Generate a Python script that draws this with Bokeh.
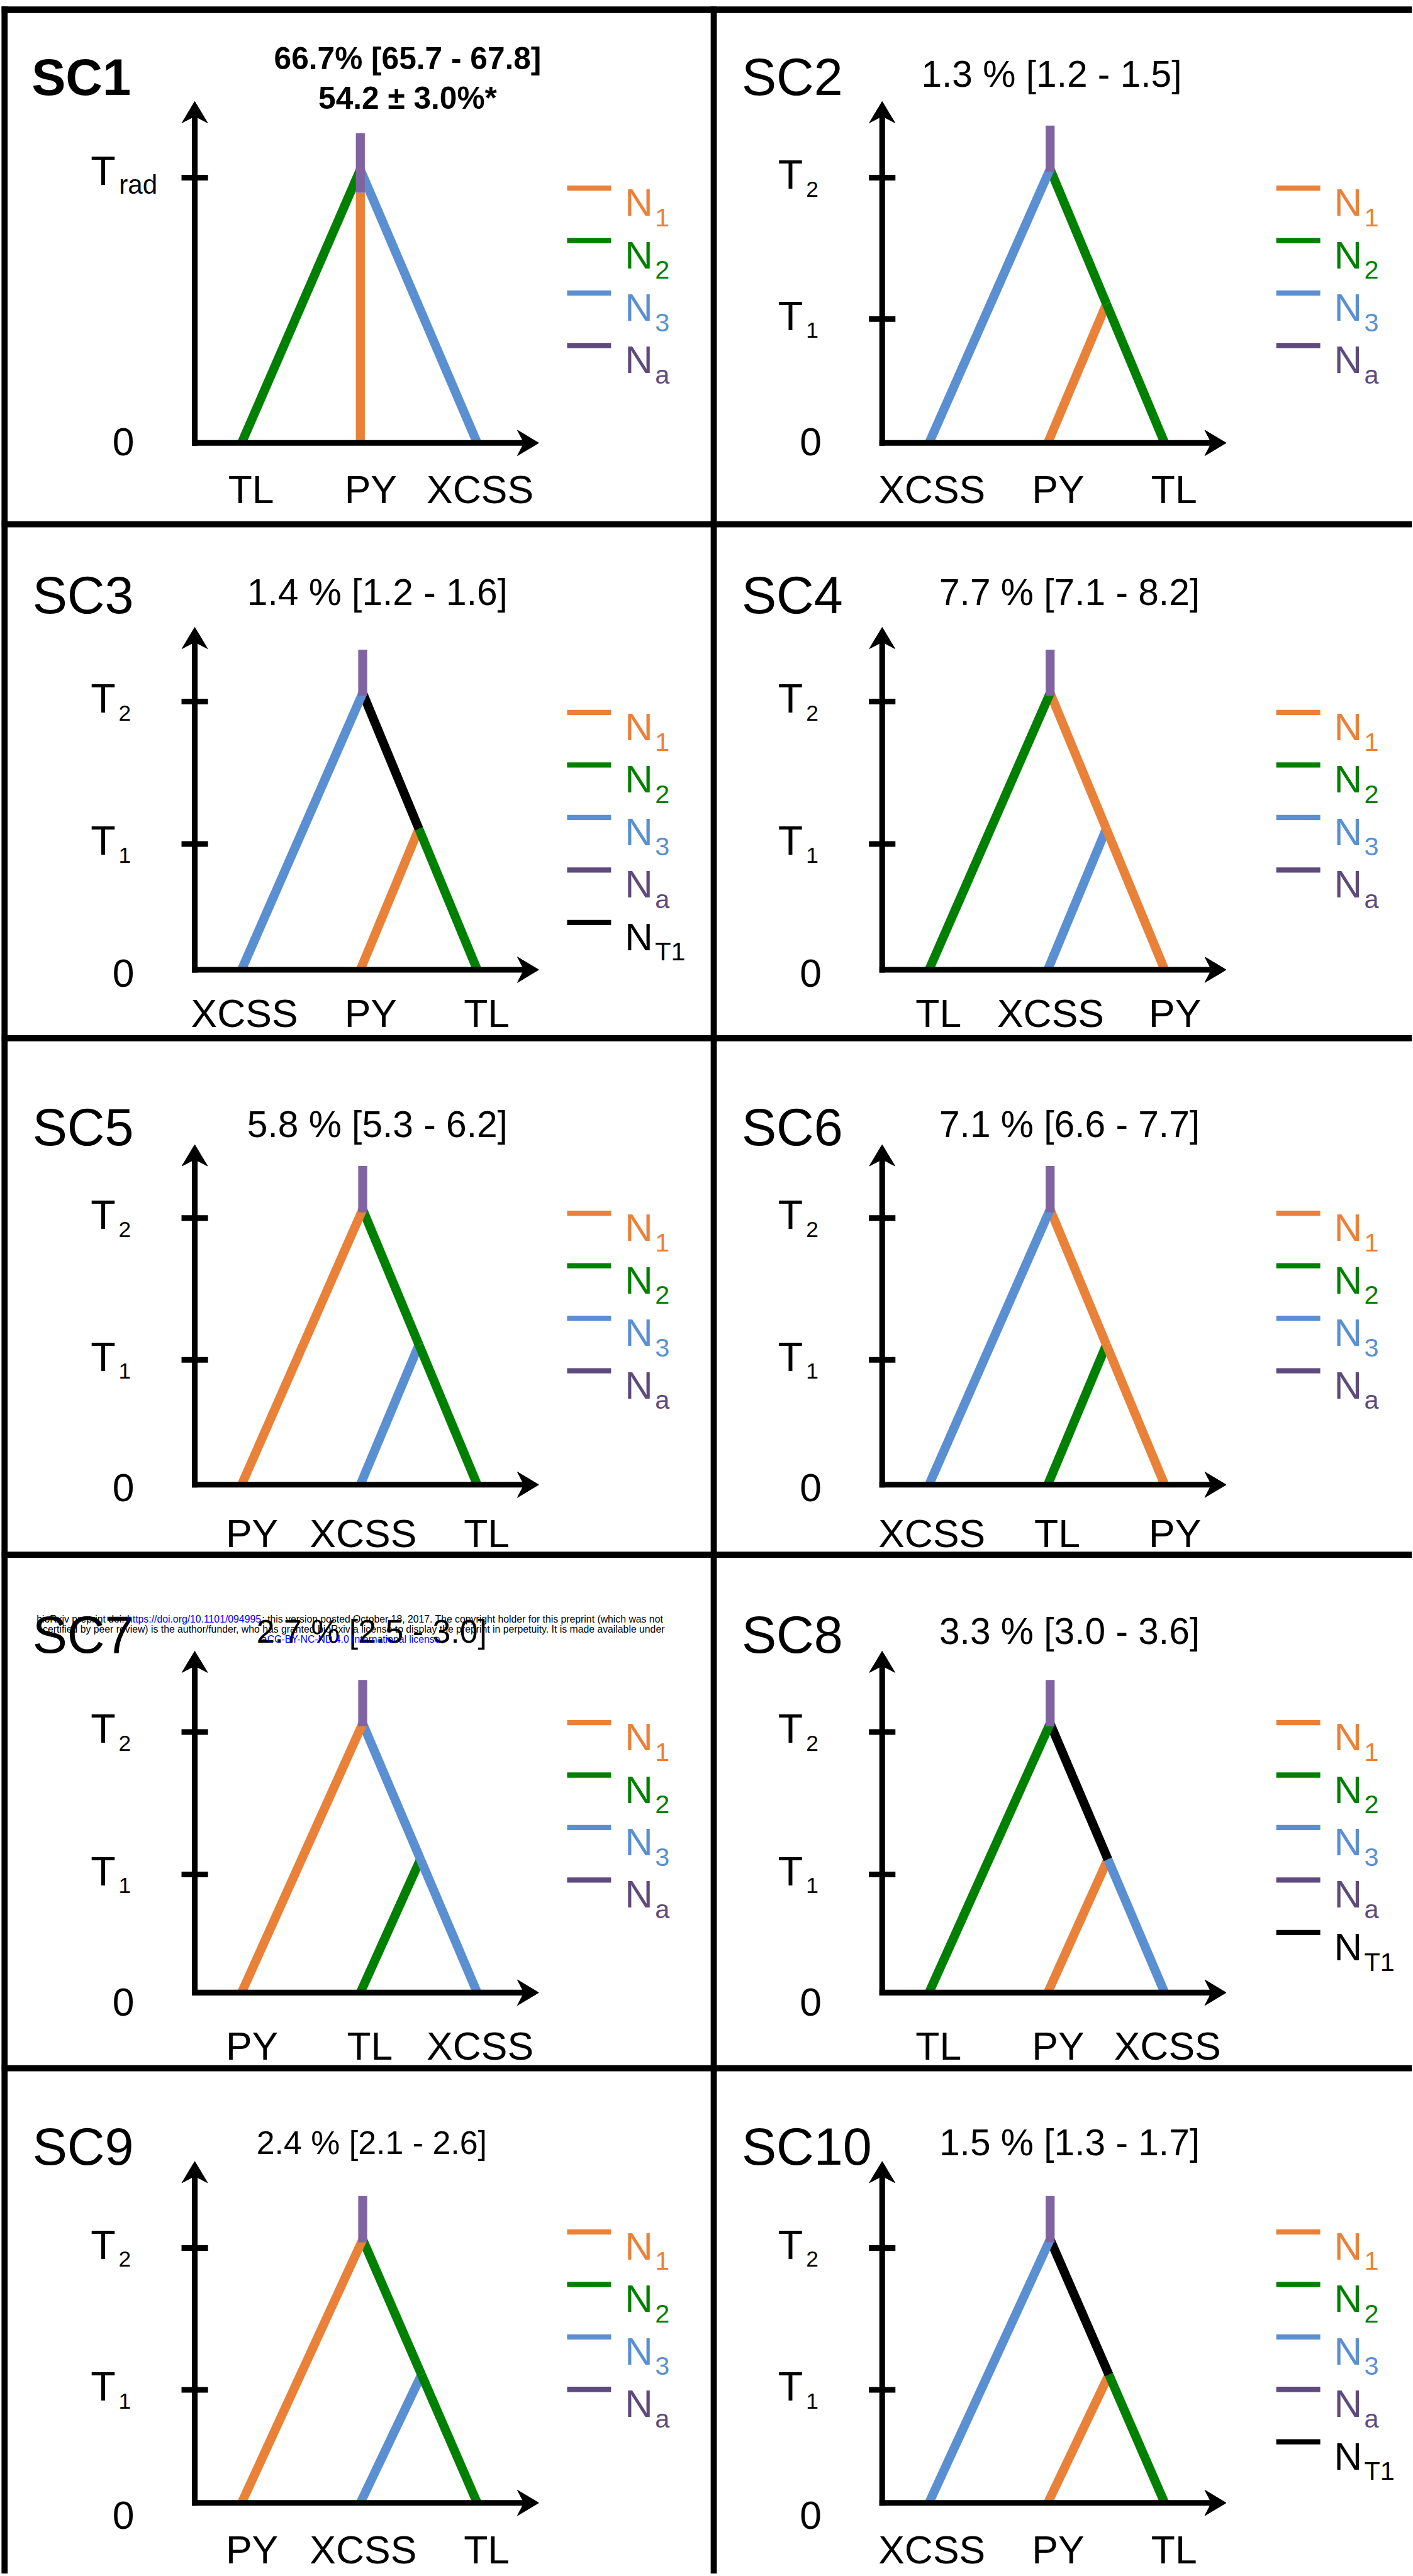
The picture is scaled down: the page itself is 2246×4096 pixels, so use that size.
from collections import defaultdict
from bokeh.plotting import figure
from bokeh.models import Range1d, ColumnDataSource
from bokeh.core.properties import value
from bokeh.embed import file_html
from bokeh.resources import INLINE

# ---------------- data ----------------
scenarios = ["SC1", "SC2", "SC3", "SC4", "SC5", "SC6", "SC7", "SC8", "SC9", "SC10"]
support = ["66.7% [65.7 - 67.8]", "1.3 % [1.2 - 1.5]", "1.4 % [1.2 - 1.6]",
           "7.7 % [7.1 - 8.2]", "5.8 % [5.3 - 6.2]", "7.1 % [6.6 - 7.7]",
           "2.7 % [2.5 - 3.0]", "3.3 % [3.0 - 3.6]", "2.4 % [2.1 - 2.6]",
           "1.5 % [1.3 - 1.7]"]
sc1_second_line = "54.2 \u00b1 3.0%*"
narrow_title = [True, False, False, False, False, False, True, False, True, False]
leaf_orders = [["TL", "PY", "XCSS"], ["XCSS", "PY", "TL"], ["XCSS", "PY", "TL"],
               ["TL", "XCSS", "PY"], ["PY", "XCSS", "TL"], ["XCSS", "TL", "PY"],
               ["PY", "TL", "XCSS"], ["TL", "PY", "XCSS"], ["PY", "XCSS", "TL"],
               ["XCSS", "PY", "TL"]]
internal_pop = [None, "N2", "NT1", "N1", "N2", "N1", "N3", "NT1", "N2", "NT1"]
leaf_population = {"PY": "N1", "TL": "N2", "XCSS": "N3"}
legend_entries = [["N1", "N2", "N3", "Na"] + (["NT1"] if ip == "NT1" else []) for ip in internal_pop]
pop_sub = {"N1": "1", "N2": "2", "N3": "3", "Na": "a", "NT1": "T1"}
time_ticks = [[("T", "rad", 2)]] + [[("T", "2", 2), ("T", "1", 1)]] * 9
zero_label = "0"

watermark_l1 = ["bioRxiv preprint doi: ", "https://doi.org/10.1101/094995",
                "; this version posted October 18, 2017. The copyright holder for this preprint (which was not"]
watermark_l2 = "certified by peer review) is the author/funder, who has granted bioRxiv a license to display the preprint in perpetuity. It is made available under"
watermark_l3 = ["a", "CC-BY-NC-ND 4.0 International license", "."]

# ---------------- style / layout (reference pixel units) ----------------
S = 0.752
REF_W, REF_H = 2984, 5442
ORANGE, GREEN, BLUE = "#EA8139", "#008000", "#5A8FD2"
ROOT_PURPLE, LEG_PURPLE = "#8064A2", "#5E4A7C"
pop_color = {"N1": ORANGE, "N2": GREEN, "N3": BLUE, "Na": LEG_PURPLE, "NT1": "black"}
FONT = "Liberation Sans"

rows_top = [20, 1108, 2195, 3287, 4373]
cols_left = [9, 1508]
row_sc_base = [142, 150, 188, 169, 166]
row_title_base = [135, 144, 182, 162, 157]
row_arrow_tip = [194, 218, 225, 204, 197]
row_t2 = [355, 375, 380, 375, 380]
row_t1 = [654, 676, 680, 676, 680]
row_axis = [916, 942, 944, 926, 919]
row_zero_base = [913, 950, 950, 946, 945]
row_xlab_base = [1014, 1034, 1046, 1038, 1018]
row_legend0 = [377, 398, 370, 355, 346]
col_axis_x = [402, 356]
tip_off = [99, 350, 597]
title_center = [852, 714, 788, 752, 788, 752, 776, 752, 776, 752]
label_off = {"TL": 20, "PY": 22, "XCSS": 6}

p = figure(width=round(REF_W * S), height=round(REF_H * S),
           x_range=Range1d(0, REF_W), y_range=Range1d(REF_H, 0),
           output_backend="svg", toolbar_location=None,
           x_axis_location=None, y_axis_location=None, min_border=0)
p.grid.visible = False
p.outline_line_color = None
p.background_fill_color = "white"
p.border_fill_color = "white"

segs = defaultdict(lambda: {"x0": [], "y0": [], "x1": [], "y1": [], "c": []})
def add_seg(x0, y0, x1, y1, color, width):
    d = segs[width]
    d["x0"].append(x0); d["y0"].append(y0); d["x1"].append(x1); d["y1"].append(y1); d["c"].append(color)

texts = defaultdict(lambda: {"x": [], "y": [], "t": []})
def add_text(x, y, t, size, color="black", align="left", style="normal"):
    d = texts[(size, color, align, style)]
    d["x"].append(x); d["y"].append(y); d["t"].append(t)

arrow_xs, arrow_ys = [], []

# borders
add_seg(3, 20, REF_W, 20, "black", 14)
add_seg(9, 13, 9, REF_H, "black", 13)
add_seg(1508, 13, 1508, REF_H, "black", 13)
for ry in rows_top[1:]:
    add_seg(3, ry, REF_W, ry, "black", 13)

BR = 19  # branch width
for i, sc in enumerate(scenarios):
    r, c = divmod(i, 2)
    px0, py0 = cols_left[c], rows_top[r]
    ax_x = px0 + col_axis_x[c]
    ax_y = py0 + row_axis[r]
    tip_y = py0 + row_arrow_tip[r]
    xtip = ax_x + 727
    tick_y = {2: py0 + row_t2[r], 1: py0 + row_t1[r]}
    node_y = {0: ax_y, 1: tick_y[1] - 32, 2: tick_y[2] - 18}
    tips = [ax_x + o for o in tip_off]
    order = leaf_orders[i]

    # ---- tree ----
    if internal_pop[i] is None:
        apx, apy = tips[1], tick_y[2] - 17
        add_seg(tips[1], ax_y, tips[1], apy + 49, pop_color[leaf_population[order[1]]], BR)
        add_seg(tips[0], ax_y, apx, apy, pop_color[leaf_population[order[0]]], BR)
        add_seg(tips[2], ax_y, apx, apy, pop_color[leaf_population[order[2]]], BR)
        add_seg(apx, apy + 49, apx, apy - 77, ROOT_PURPLE, BR)
    else:
        apx, apy = tips[1] + 5, node_y[2]
        ny = node_y[1]
        frac = (ax_y - ny) / (ax_y - apy)
        nx = tips[2] + (apx - tips[2]) * frac
        add_seg(tips[1], ax_y, nx, ny, pop_color[leaf_population[order[1]]], BR)
        add_seg(tips[2], ax_y, nx, ny, pop_color[leaf_population[order[2]]], BR)
        add_seg(nx, ny, apx, apy, pop_color[internal_pop[i]], BR)
        add_seg(tips[0], ax_y, apx, apy, pop_color[leaf_population[order[0]]], BR)
        add_seg(apx, apy + 6, apx, apy - 92, ROOT_PURPLE, BR)

    # ---- axes ----
    add_seg(ax_x, ax_y + 6, ax_x, tip_y + 30, "black", 12)
    add_seg(ax_x - 6, ax_y, xtip - 30, ax_y, "black", 12)
    arrow_xs.append([ax_x, ax_x - 27, ax_x, ax_x + 27])
    arrow_ys.append([tip_y, tip_y + 45, tip_y + 31, tip_y + 45])
    arrow_xs.append([xtip, xtip - 45, xtip - 31, xtip - 45])
    arrow_ys.append([ax_y, ax_y - 27, ax_y, ax_y + 27])
    for (main, sub, t) in time_ticks[i]:
        ty = tick_y[t]
        add_seg(ax_x - 28, ty, ax_x + 28, ty, "black", 12)
        if sub == "rad":
            add_text(ax_x - 220, ty - 14, main, 86)
            add_text(ax_x - 160, ty + 14, sub, 56)
        else:
            add_text(ax_x - 220, ty - 7, main, 86)
            add_text(ax_x - 161, ty + 24, sub, 47)
    add_text(ax_x - 151, py0 + row_zero_base[r], zero_label, 83, align="center")
    for k, leaf in enumerate(order):
        add_text(tips[k] + label_off[leaf], py0 + row_xlab_base[r], leaf, 83, align="center")

    # ---- headers ----
    if i == 0:
        add_text(px0 + 57, py0 + row_sc_base[r], sc, 108, style="bold")
        add_text(px0 + title_center[i], py0 + 103, support[i], 66, align="center", style="bold")
        add_text(px0 + title_center[i], py0 + 187, sc1_second_line, 66, align="center", style="bold")
    else:
        add_text(px0 + 59, py0 + row_sc_base[r], sc, 110)
        add_text(px0 + title_center[i], py0 + row_title_base[r], support[i], 69 if narrow_title[i] else 78,
                 align="center")

    # ---- legend ----
    for k, pop in enumerate(legend_entries[i]):
        ly = py0 + row_legend0[r] + 111 * k
        col = pop_color[pop]
        add_seg(px0 + 1189, ly, px0 + 1282, ly, col, 11)
        add_text(px0 + 1311, ly + 30, "N", 82, color=col)
        add_text(px0 + 1375, ly + 62, pop_sub[pop], 55, color=col)

# watermark over SC7
WM = 21
WB = "#0000FF"
add_text(268, 3423, watermark_l1[0], WM, align="right")
add_text(268, 3423, watermark_l1[1], WM, color=WB)
add_text(553, 3423, watermark_l1[2], WM)
add_text(747, 3444, watermark_l2, WM, align="center")
add_text(564, 3466, watermark_l3[0], WM, align="right")
add_text(564, 3466, watermark_l3[1], WM, color=WB)
add_text(932, 3466, watermark_l3[2], WM)

for width, d in segs.items():
    src = ColumnDataSource(dict(x0=d["x0"], y0=d["y0"], x1=d["x1"], y1=d["y1"], c=d["c"]))
    p.segment("x0", "y0", "x1", "y1", source=src, line_color="c", line_width=width * S, line_cap="butt")
p.patches(arrow_xs, arrow_ys, fill_color="black", line_color="black", line_width=1)

for (size, color, align, style), d in texts.items():
    p.text(x=d["x"], y=d["y"], text=d["t"], text_font=value(FONT), text_font_size=f"{size * S:.2f}px",
           text_color=color, text_align=align, text_baseline="alphabetic", text_font_style=style)

open("out.html", "w").write(file_html(p, INLINE))
